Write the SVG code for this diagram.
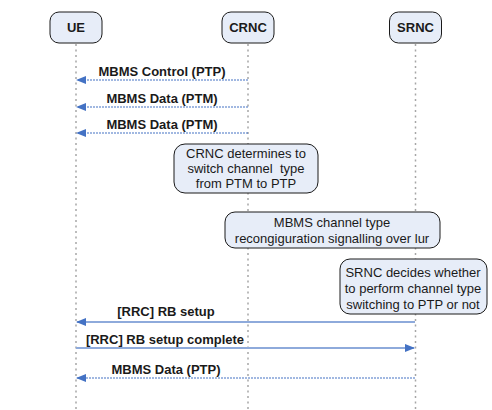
<svg xmlns="http://www.w3.org/2000/svg" width="492" height="410" viewBox="0 0 492 410">
<style>
.box{fill:#E7EDF8;stroke:#1a1a1a;stroke-width:1}
.life{stroke:#A6A6A6;stroke-width:1.5;stroke-dasharray:2,3.5;fill:none}
.nt{font-family:"Liberation Sans",Arial,sans-serif;font-size:13px;font-weight:bold;fill:#1a1a1a;text-anchor:middle}
.ml{font-family:"Liberation Sans",Arial,sans-serif;font-size:13px;font-weight:bold;fill:#1a1a1a;text-anchor:middle}
.tx{font-family:"Liberation Sans",Arial,sans-serif;font-size:13px;fill:#1a1a1a;text-anchor:middle;white-space:pre}
.dot{stroke:#4472C4;stroke-width:1.2;stroke-dasharray:2,1;fill:none}
.sol{stroke:#8EAADB;stroke-width:2;fill:none}
</style>
<defs>
<marker id="ah" markerWidth="10" markerHeight="8" refX="9" refY="4" orient="auto" markerUnits="userSpaceOnUse">
<path d="M0,0 L10,4 L0,8 Z" fill="#4472C4"/>
</marker>
</defs>
<rect width="492" height="410" fill="#fff"/>
<g id="lifelines">
<line class="life" x1="76" y1="44" x2="76" y2="410"/>
<line class="life" x1="248" y1="44" x2="248" y2="410"/>
<line class="life" x1="415.5" y1="44" x2="415.5" y2="410"/>
</g>
<g id="UE"><rect class="box" x="50" y="12" width="52" height="31" rx="9"/><text class="nt" x="76" y="32">UE</text></g>
<g id="CRNC"><rect class="box" x="222" y="12" width="52" height="31" rx="9"/><text class="nt" x="248" y="32">CRNC</text></g>
<g id="SRNC"><rect class="box" x="389.5" y="12" width="52" height="31" rx="9"/><text class="nt" x="415.5" y="32">SRNC</text></g>
<g id="connectors">
<line class="dot" x1="248" y1="80" x2="77" y2="80" marker-end="url(#ah)"/>
<line class="dot" x1="248" y1="107" x2="77" y2="107" marker-end="url(#ah)"/>
<line class="dot" x1="248" y1="133" x2="77" y2="133" marker-end="url(#ah)"/>
<line class="sol" x1="415" y1="322" x2="77" y2="322" marker-end="url(#ah)"/>
<line class="sol" x1="76" y1="348" x2="414" y2="348" marker-end="url(#ah)"/>
<line class="dot" x1="415" y1="378" x2="77" y2="378" marker-end="url(#ah)"/>
</g>
<g id="labels">
<text class="ml" x="162" y="76">MBMS Control (PTP)</text>
<text class="ml" x="162" y="103">MBMS Data (PTM)</text>
<text class="ml" x="162" y="129">MBMS Data (PTM)</text>
<text class="ml" x="166" y="316">[RRC] RB setup</text>
<text class="ml" x="165" y="344">[RRC] RB setup complete</text>
<text class="ml" x="166" y="374">MBMS Data (PTP)</text>
</g>
<g id="note1"><rect class="box" x="174" y="144" width="144" height="49" rx="11"/>
<text class="tx" x="246" y="158">CRNC determines to</text>
<text class="tx" x="246" y="173" xml:space="preserve">switch channel  type</text>
<text class="tx" x="246" y="188">from PTM to PTP</text></g>
<g id="note2"><rect class="box" x="225" y="212" width="215" height="36" rx="10"/>
<text class="tx" x="332" y="227">MBMS channel type</text>
<text class="tx" x="332" y="243">recongiguration signalling over lur</text></g>
<g id="note3"><rect class="box" x="340" y="259" width="147" height="55" rx="10"/>
<text class="tx" x="413" y="277">SRNC decides whether</text>
<text class="tx" x="413" y="293">to perform channel type</text>
<text class="tx" x="413" y="309">switching to PTP or not</text></g>
</svg>
